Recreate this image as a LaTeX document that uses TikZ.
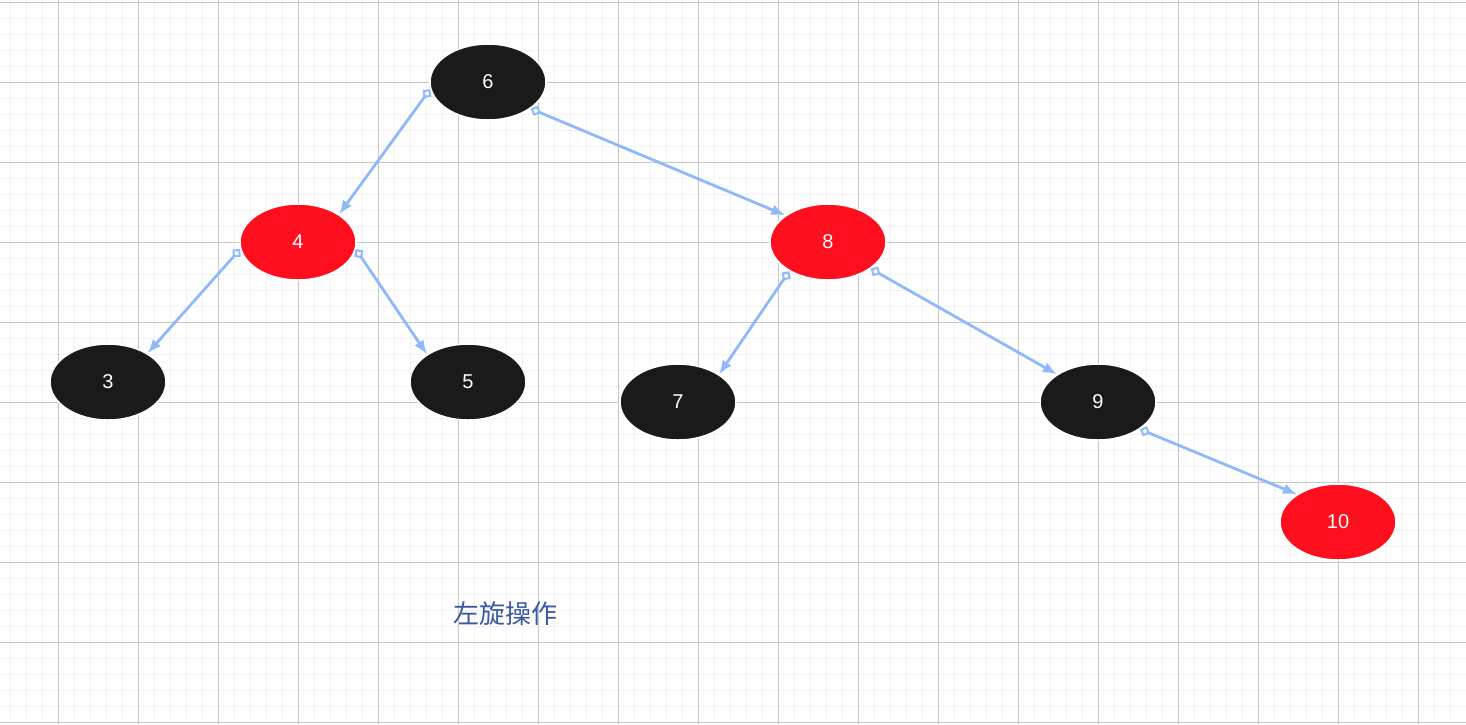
\documentclass[tikz,border=0pt]{standalone}
\usepackage{fontspec}
\setmainfont{Liberation Sans}
\newfontfamily\cjk{Noto Sans CJK SC}
\usetikzlibrary{shapes.geometric,arrows.meta}
\definecolor{nblack}{HTML}{1A1A1A}
\definecolor{nred}{HTML}{FF0E1E}
\definecolor{edge}{HTML}{8FB9F9}
\definecolor{lbl}{HTML}{3B58A6}
\begin{document}
\begin{tikzpicture}[x=1pt,y=-1pt,
  rb/.style={ellipse,minimum width=116pt,minimum height=76pt,inner sep=0pt,draw=white,line width=1.5pt,text=white,font=\fontsize{20}{20}\selectfont},
  bk/.style={rb,fill=nblack},
  rd/.style={rb,fill=nred},
  link/.style={draw=edge,line width=2.8pt,{Diamond[open,length=11pt,width=11pt,line width=2pt]}-{Latex[length=14pt,width=11pt]}}]
\fill[white] (0,0) rectangle (1466,724);
\useasboundingbox (0,0) rectangle (1466,724);
\foreach \x in {10,26,...,1466} \draw[black!5,line width=0.6pt] (\x,0) -- (\x,724);
\foreach \y in {2,18,...,724} \draw[black!5,line width=0.6pt] (0,\y) -- (1466,\y);
\foreach \x in {58,138,...,1466} \draw[black!22,line width=0.8pt] (\x,0) -- (\x,724);
\foreach \y in {2,82,...,724} \draw[black!22,line width=0.8pt] (0,\y) -- (1466,\y);
\node[bk] (n6) at (488,82) {6};
\node[rd] (n4) at (298,242) {4};
\node[rd] (n8) at (828,242) {8};
\node[bk] (n3) at (108,382) {3};
\node[bk] (n5) at (468,382) {5};
\node[bk] (n7) at (678,402) {7};
\node[bk] (n9) at (1098,402) {9};
\node[rd] (n10) at (1338,522) {10};
\draw[link] (n6.187) -- (n4.34);
\draw[link] (n6.-32) -- (n8.148);
\draw[link] (n4.187) -- (n3.36);
\draw[link] (n4.-7) -- (n5.146);
\draw[link] (n8.217) -- (n7.34);
\draw[link] (n8.-32) -- (n9.146);
\draw[link] (n9.-33) -- (n10.146);
\node[text=lbl,font=\cjk\fontsize{26}{26}\selectfont] (cap) at (505,614) {左旋操作};
\end{tikzpicture}
\end{document}
